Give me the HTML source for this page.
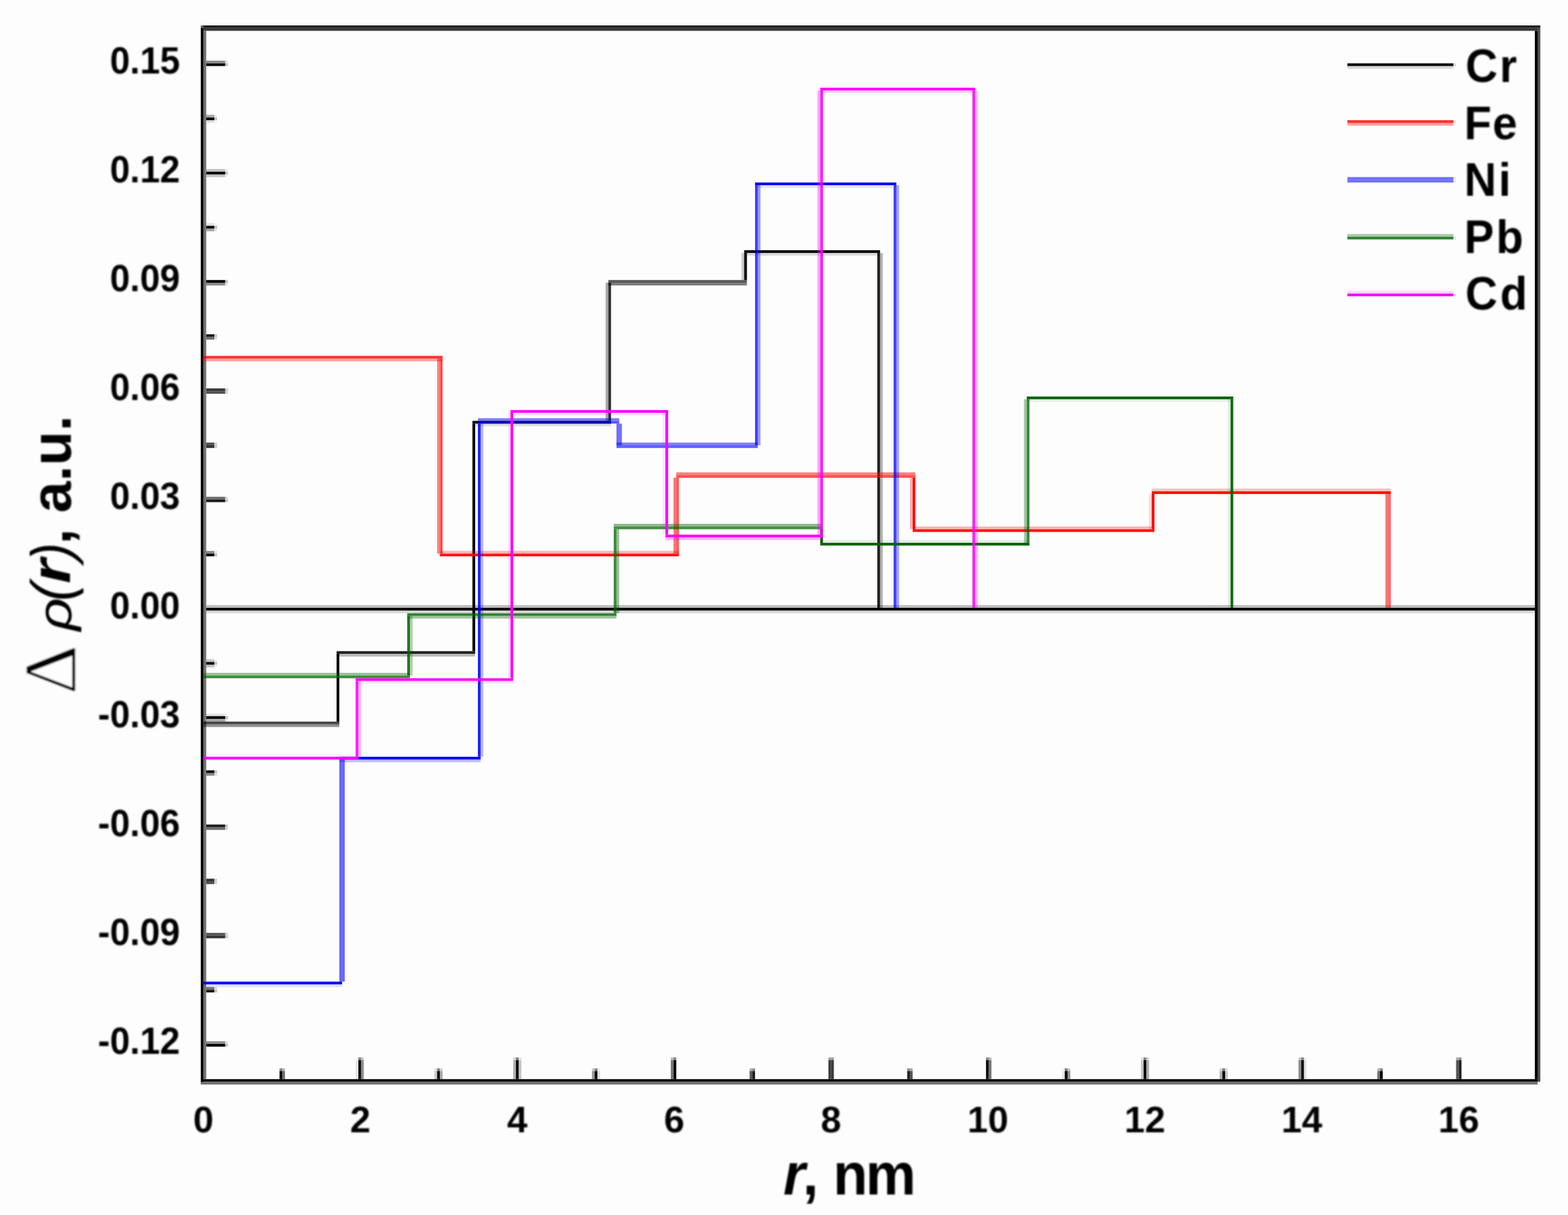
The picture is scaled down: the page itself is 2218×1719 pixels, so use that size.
<!DOCTYPE html>
<html lang="en"><head><meta charset="utf-8"><title>Δρ(r) chart</title>
<style>
html,body{margin:0;padding:0;background:#fdfdfd;}
body{width:2218px;height:1719px;overflow:hidden;}
svg{display:block;}
text{font-family:"Liberation Sans",Arial,Helvetica,sans-serif;font-weight:bold;fill:#000;}
.tk{font-size:52px;}
.lg{font-size:63px;}
.ti{font-size:80px;}
.it{font-style:italic;}
.sym{font-family:"Liberation Serif","DejaVu Serif",serif;font-weight:normal;}
</style></head><body>
<svg xmlns="http://www.w3.org/2000/svg" width="2218" height="1719" viewBox="0 0 2218 1719">
<rect x="0" y="0" width="2218" height="1719" fill="#fdfdfd"/>
<defs><filter id="soft" x="0" y="0" width="2218" height="1719" filterUnits="userSpaceOnUse"><feGaussianBlur stdDeviation="0.4"/></filter><filter id="softt" x="0" y="0" width="2218" height="1719" filterUnits="userSpaceOnUse"><feGaussianBlur stdDeviation="1.0"/></filter></defs>
<g filter="url(#soft)">
<g>
<rect x="287.82" y="35.94" width="1891.00" height="3.83" fill="#202020"/>
<rect x="287.82" y="39.78" width="1887.16" height="3.83" fill="#383838"/>
<rect x="283.98" y="1526.79" width="1891.00" height="3.83" fill="#000"/>
<rect x="283.98" y="1530.62" width="1891.00" height="3.83" fill="#707070"/>
<rect x="283.98" y="35.94" width="3.84" height="1494.67" fill="#000"/>
<rect x="287.82" y="43.61" width="3.84" height="1483.18" fill="#707070"/>
<rect x="2171.13" y="43.61" width="3.84" height="1483.18" fill="#000"/>
<rect x="2174.98" y="39.78" width="3.84" height="1490.84" fill="#505050"/>
<rect x="283.98" y="35.94" width="3.84" height="3.83" fill="#686868"/>
</g>
<g>
<rect x="291.66" y="1473.13" width="26.90" height="3.83" fill="#000" fill-opacity="0.44"/>
<rect x="318.57" y="1473.13" width="3.84" height="3.83" fill="#000" fill-opacity="0.11"/>
<rect x="291.66" y="1476.96" width="26.90" height="3.83" fill="#000"/>
<rect x="318.57" y="1476.96" width="3.84" height="3.83" fill="#000" fill-opacity="0.25"/>
<rect x="291.66" y="1396.48" width="11.53" height="3.83" fill="#000" fill-opacity="0.55"/>
<rect x="303.19" y="1396.48" width="3.84" height="3.83" fill="#000" fill-opacity="0.14"/>
<rect x="291.66" y="1400.31" width="11.53" height="3.83" fill="#000" fill-opacity="0.91"/>
<rect x="303.19" y="1400.31" width="3.84" height="3.83" fill="#000" fill-opacity="0.23"/>
<rect x="291.66" y="1319.83" width="26.90" height="3.83" fill="#000" fill-opacity="0.66"/>
<rect x="318.57" y="1319.83" width="3.84" height="3.83" fill="#000" fill-opacity="0.17"/>
<rect x="291.66" y="1323.66" width="26.90" height="3.83" fill="#000" fill-opacity="0.80"/>
<rect x="318.57" y="1323.66" width="3.84" height="3.83" fill="#000" fill-opacity="0.20"/>
<rect x="291.66" y="1243.18" width="11.53" height="3.83" fill="#000" fill-opacity="0.78"/>
<rect x="303.19" y="1243.18" width="3.84" height="3.83" fill="#000" fill-opacity="0.19"/>
<rect x="291.66" y="1247.01" width="11.53" height="3.83" fill="#000" fill-opacity="0.68"/>
<rect x="303.19" y="1247.01" width="3.84" height="3.83" fill="#000" fill-opacity="0.17"/>
<rect x="291.66" y="1166.53" width="26.90" height="3.83" fill="#000" fill-opacity="0.89"/>
<rect x="318.57" y="1166.53" width="3.84" height="3.83" fill="#000" fill-opacity="0.22"/>
<rect x="291.66" y="1170.36" width="26.90" height="3.83" fill="#000" fill-opacity="0.57"/>
<rect x="318.57" y="1170.36" width="3.84" height="3.83" fill="#000" fill-opacity="0.14"/>
<rect x="291.66" y="1089.88" width="11.53" height="3.83" fill="#000"/>
<rect x="303.19" y="1089.88" width="3.84" height="3.83" fill="#000" fill-opacity="0.25"/>
<rect x="291.66" y="1093.71" width="11.53" height="3.83" fill="#000" fill-opacity="0.46"/>
<rect x="303.19" y="1093.71" width="3.84" height="3.83" fill="#000" fill-opacity="0.12"/>
<rect x="291.66" y="1009.40" width="26.90" height="3.83" fill="#000" fill-opacity="0.11"/>
<rect x="318.57" y="1009.40" width="3.84" height="3.83" fill="#000" fill-opacity="0.03"/>
<rect x="291.66" y="1013.23" width="26.90" height="3.83" fill="#000"/>
<rect x="318.57" y="1013.23" width="3.84" height="3.83" fill="#000" fill-opacity="0.25"/>
<rect x="291.66" y="1017.06" width="26.90" height="3.83" fill="#000" fill-opacity="0.35"/>
<rect x="318.57" y="1017.06" width="3.84" height="3.83" fill="#000" fill-opacity="0.09"/>
<rect x="291.66" y="932.75" width="11.53" height="3.83" fill="#000" fill-opacity="0.22"/>
<rect x="303.19" y="932.75" width="3.84" height="3.83" fill="#000" fill-opacity="0.06"/>
<rect x="291.66" y="936.58" width="11.53" height="3.83" fill="#000"/>
<rect x="303.19" y="936.58" width="3.84" height="3.83" fill="#000" fill-opacity="0.25"/>
<rect x="291.66" y="940.41" width="11.53" height="3.83" fill="#000" fill-opacity="0.24"/>
<rect x="303.19" y="940.41" width="3.84" height="3.83" fill="#000" fill-opacity="0.06"/>
<rect x="291.66" y="779.45" width="11.53" height="3.83" fill="#000" fill-opacity="0.45"/>
<rect x="303.19" y="779.45" width="3.84" height="3.83" fill="#000" fill-opacity="0.11"/>
<rect x="291.66" y="783.28" width="11.53" height="3.83" fill="#000"/>
<rect x="303.19" y="783.28" width="3.84" height="3.83" fill="#000" fill-opacity="0.25"/>
<rect x="291.66" y="702.80" width="26.90" height="3.83" fill="#000" fill-opacity="0.56"/>
<rect x="318.57" y="702.80" width="3.84" height="3.83" fill="#000" fill-opacity="0.14"/>
<rect x="291.66" y="706.63" width="26.90" height="3.83" fill="#000" fill-opacity="0.90"/>
<rect x="318.57" y="706.63" width="3.84" height="3.83" fill="#000" fill-opacity="0.23"/>
<rect x="291.66" y="626.15" width="11.53" height="3.83" fill="#000" fill-opacity="0.67"/>
<rect x="303.19" y="626.15" width="3.84" height="3.83" fill="#000" fill-opacity="0.17"/>
<rect x="291.66" y="629.98" width="11.53" height="3.83" fill="#000" fill-opacity="0.79"/>
<rect x="303.19" y="629.98" width="3.84" height="3.83" fill="#000" fill-opacity="0.20"/>
<rect x="291.66" y="549.50" width="26.90" height="3.83" fill="#000" fill-opacity="0.78"/>
<rect x="318.57" y="549.50" width="3.84" height="3.83" fill="#000" fill-opacity="0.20"/>
<rect x="291.66" y="553.33" width="26.90" height="3.83" fill="#000" fill-opacity="0.68"/>
<rect x="318.57" y="553.33" width="3.84" height="3.83" fill="#000" fill-opacity="0.17"/>
<rect x="291.66" y="472.85" width="11.53" height="3.83" fill="#000" fill-opacity="0.89"/>
<rect x="303.19" y="472.85" width="3.84" height="3.83" fill="#000" fill-opacity="0.22"/>
<rect x="291.66" y="476.68" width="11.53" height="3.83" fill="#000" fill-opacity="0.57"/>
<rect x="303.19" y="476.68" width="3.84" height="3.83" fill="#000" fill-opacity="0.14"/>
<rect x="291.66" y="396.20" width="26.90" height="3.83" fill="#000"/>
<rect x="318.57" y="396.20" width="3.84" height="3.83" fill="#000" fill-opacity="0.25"/>
<rect x="291.66" y="400.03" width="26.90" height="3.83" fill="#000" fill-opacity="0.46"/>
<rect x="318.57" y="400.03" width="3.84" height="3.83" fill="#000" fill-opacity="0.11"/>
<rect x="291.66" y="315.71" width="11.53" height="3.83" fill="#000" fill-opacity="0.11"/>
<rect x="303.19" y="315.71" width="3.84" height="3.83" fill="#000" fill-opacity="0.03"/>
<rect x="291.66" y="319.55" width="11.53" height="3.83" fill="#000"/>
<rect x="303.19" y="319.55" width="3.84" height="3.83" fill="#000" fill-opacity="0.25"/>
<rect x="291.66" y="323.38" width="11.53" height="3.83" fill="#000" fill-opacity="0.35"/>
<rect x="303.19" y="323.38" width="3.84" height="3.83" fill="#000" fill-opacity="0.09"/>
<rect x="291.66" y="239.06" width="26.90" height="3.83" fill="#000" fill-opacity="0.23"/>
<rect x="318.57" y="239.06" width="3.84" height="3.83" fill="#000" fill-opacity="0.06"/>
<rect x="291.66" y="242.90" width="26.90" height="3.83" fill="#000"/>
<rect x="318.57" y="242.90" width="3.84" height="3.83" fill="#000" fill-opacity="0.25"/>
<rect x="291.66" y="246.73" width="26.90" height="3.83" fill="#000" fill-opacity="0.23"/>
<rect x="318.57" y="246.73" width="3.84" height="3.83" fill="#000" fill-opacity="0.06"/>
<rect x="291.66" y="162.41" width="11.53" height="3.83" fill="#000" fill-opacity="0.34"/>
<rect x="303.19" y="162.41" width="3.84" height="3.83" fill="#000" fill-opacity="0.08"/>
<rect x="291.66" y="166.25" width="11.53" height="3.83" fill="#000"/>
<rect x="303.19" y="166.25" width="3.84" height="3.83" fill="#000" fill-opacity="0.25"/>
<rect x="291.66" y="170.08" width="11.53" height="3.83" fill="#000" fill-opacity="0.12"/>
<rect x="303.19" y="170.08" width="3.84" height="3.83" fill="#000" fill-opacity="0.03"/>
<rect x="291.66" y="85.77" width="26.90" height="3.83" fill="#000" fill-opacity="0.45"/>
<rect x="318.57" y="85.77" width="3.84" height="3.83" fill="#000" fill-opacity="0.11"/>
<rect x="291.66" y="89.60" width="26.90" height="3.83" fill="#000"/>
<rect x="318.57" y="89.60" width="3.84" height="3.83" fill="#000" fill-opacity="0.25"/>
<rect x="395.44" y="1515.29" width="3.84" height="11.50" fill="#000" fill-opacity="0.98"/>
<rect x="395.44" y="1511.46" width="3.84" height="3.83" fill="#000" fill-opacity="0.49"/>
<rect x="399.28" y="1515.29" width="3.84" height="11.50" fill="#000" fill-opacity="0.56"/>
<rect x="399.28" y="1511.46" width="3.84" height="3.83" fill="#000" fill-opacity="0.28"/>
<rect x="503.06" y="1499.96" width="3.84" height="26.83" fill="#000" fill-opacity="0.09"/>
<rect x="503.06" y="1496.12" width="3.84" height="3.83" fill="#000" fill-opacity="0.04"/>
<rect x="506.90" y="1499.96" width="3.84" height="26.83" fill="#000"/>
<rect x="506.90" y="1496.12" width="3.84" height="3.83" fill="#000" fill-opacity="0.50"/>
<rect x="510.74" y="1499.96" width="3.84" height="26.83" fill="#000" fill-opacity="0.45"/>
<rect x="510.74" y="1496.12" width="3.84" height="3.83" fill="#000" fill-opacity="0.22"/>
<rect x="614.52" y="1515.29" width="3.84" height="11.50" fill="#000" fill-opacity="0.20"/>
<rect x="614.52" y="1511.46" width="3.84" height="3.83" fill="#000" fill-opacity="0.10"/>
<rect x="618.36" y="1515.29" width="3.84" height="11.50" fill="#000"/>
<rect x="618.36" y="1511.46" width="3.84" height="3.83" fill="#000" fill-opacity="0.50"/>
<rect x="622.20" y="1515.29" width="3.84" height="11.50" fill="#000" fill-opacity="0.33"/>
<rect x="622.20" y="1511.46" width="3.84" height="3.83" fill="#000" fill-opacity="0.17"/>
<rect x="725.98" y="1499.96" width="3.84" height="26.83" fill="#000" fill-opacity="0.31"/>
<rect x="725.98" y="1496.12" width="3.84" height="3.83" fill="#000" fill-opacity="0.16"/>
<rect x="729.82" y="1499.96" width="3.84" height="26.83" fill="#000"/>
<rect x="729.82" y="1496.12" width="3.84" height="3.83" fill="#000" fill-opacity="0.50"/>
<rect x="733.66" y="1499.96" width="3.84" height="26.83" fill="#000" fill-opacity="0.22"/>
<rect x="733.66" y="1496.12" width="3.84" height="3.83" fill="#000" fill-opacity="0.11"/>
<rect x="837.44" y="1515.29" width="3.84" height="11.50" fill="#000" fill-opacity="0.42"/>
<rect x="837.44" y="1511.46" width="3.84" height="3.83" fill="#000" fill-opacity="0.21"/>
<rect x="841.28" y="1515.29" width="3.84" height="11.50" fill="#000"/>
<rect x="841.28" y="1511.46" width="3.84" height="3.83" fill="#000" fill-opacity="0.50"/>
<rect x="845.13" y="1515.29" width="3.84" height="11.50" fill="#000" fill-opacity="0.11"/>
<rect x="845.13" y="1511.46" width="3.84" height="3.83" fill="#000" fill-opacity="0.06"/>
<rect x="948.90" y="1499.96" width="3.84" height="26.83" fill="#000" fill-opacity="0.54"/>
<rect x="948.90" y="1496.12" width="3.84" height="3.83" fill="#000" fill-opacity="0.27"/>
<rect x="952.74" y="1499.96" width="3.84" height="26.83" fill="#000" fill-opacity="1.00"/>
<rect x="952.74" y="1496.12" width="3.84" height="3.83" fill="#000" fill-opacity="0.50"/>
<rect x="1060.36" y="1515.29" width="3.84" height="11.50" fill="#000" fill-opacity="0.65"/>
<rect x="1060.36" y="1511.46" width="3.84" height="3.83" fill="#000" fill-opacity="0.32"/>
<rect x="1064.21" y="1515.29" width="3.84" height="11.50" fill="#000" fill-opacity="0.89"/>
<rect x="1064.21" y="1511.46" width="3.84" height="3.83" fill="#000" fill-opacity="0.44"/>
<rect x="1171.82" y="1499.96" width="3.84" height="26.83" fill="#000" fill-opacity="0.76"/>
<rect x="1171.82" y="1496.12" width="3.84" height="3.83" fill="#000" fill-opacity="0.38"/>
<rect x="1175.67" y="1499.96" width="3.84" height="26.83" fill="#000" fill-opacity="0.77"/>
<rect x="1175.67" y="1496.12" width="3.84" height="3.83" fill="#000" fill-opacity="0.39"/>
<rect x="1283.29" y="1515.29" width="3.84" height="11.50" fill="#000" fill-opacity="0.87"/>
<rect x="1283.29" y="1511.46" width="3.84" height="3.83" fill="#000" fill-opacity="0.44"/>
<rect x="1287.13" y="1515.29" width="3.84" height="11.50" fill="#000" fill-opacity="0.66"/>
<rect x="1287.13" y="1511.46" width="3.84" height="3.83" fill="#000" fill-opacity="0.33"/>
<rect x="1394.75" y="1499.96" width="3.84" height="26.83" fill="#000" fill-opacity="0.99"/>
<rect x="1394.75" y="1496.12" width="3.84" height="3.83" fill="#000" fill-opacity="0.49"/>
<rect x="1398.59" y="1499.96" width="3.84" height="26.83" fill="#000" fill-opacity="0.55"/>
<rect x="1398.59" y="1496.12" width="3.84" height="3.83" fill="#000" fill-opacity="0.27"/>
<rect x="1502.37" y="1515.29" width="3.84" height="11.50" fill="#000" fill-opacity="0.10"/>
<rect x="1502.37" y="1511.46" width="3.84" height="3.83" fill="#000" fill-opacity="0.05"/>
<rect x="1506.21" y="1515.29" width="3.84" height="11.50" fill="#000"/>
<rect x="1506.21" y="1511.46" width="3.84" height="3.83" fill="#000" fill-opacity="0.50"/>
<rect x="1510.05" y="1515.29" width="3.84" height="11.50" fill="#000" fill-opacity="0.44"/>
<rect x="1510.05" y="1511.46" width="3.84" height="3.83" fill="#000" fill-opacity="0.22"/>
<rect x="1613.83" y="1499.96" width="3.84" height="26.83" fill="#000" fill-opacity="0.21"/>
<rect x="1613.83" y="1496.12" width="3.84" height="3.83" fill="#000" fill-opacity="0.11"/>
<rect x="1617.67" y="1499.96" width="3.84" height="26.83" fill="#000"/>
<rect x="1617.67" y="1496.12" width="3.84" height="3.83" fill="#000" fill-opacity="0.50"/>
<rect x="1621.51" y="1499.96" width="3.84" height="26.83" fill="#000" fill-opacity="0.32"/>
<rect x="1621.51" y="1496.12" width="3.84" height="3.83" fill="#000" fill-opacity="0.16"/>
<rect x="1725.29" y="1515.29" width="3.84" height="11.50" fill="#000" fill-opacity="0.32"/>
<rect x="1725.29" y="1511.46" width="3.84" height="3.83" fill="#000" fill-opacity="0.16"/>
<rect x="1729.13" y="1515.29" width="3.84" height="11.50" fill="#000"/>
<rect x="1729.13" y="1511.46" width="3.84" height="3.83" fill="#000" fill-opacity="0.50"/>
<rect x="1732.98" y="1515.29" width="3.84" height="11.50" fill="#000" fill-opacity="0.21"/>
<rect x="1732.98" y="1511.46" width="3.84" height="3.83" fill="#000" fill-opacity="0.11"/>
<rect x="1836.75" y="1499.96" width="3.84" height="26.83" fill="#000" fill-opacity="0.44"/>
<rect x="1836.75" y="1496.12" width="3.84" height="3.83" fill="#000" fill-opacity="0.22"/>
<rect x="1840.59" y="1499.96" width="3.84" height="26.83" fill="#000"/>
<rect x="1840.59" y="1496.12" width="3.84" height="3.83" fill="#000" fill-opacity="0.50"/>
<rect x="1844.44" y="1499.96" width="3.84" height="26.83" fill="#000" fill-opacity="0.10"/>
<rect x="1844.44" y="1496.12" width="3.84" height="3.83" fill="#000" fill-opacity="0.05"/>
<rect x="1948.21" y="1515.29" width="3.84" height="11.50" fill="#000" fill-opacity="0.55"/>
<rect x="1948.21" y="1511.46" width="3.84" height="3.83" fill="#000" fill-opacity="0.27"/>
<rect x="1952.05" y="1515.29" width="3.84" height="11.50" fill="#000" fill-opacity="0.99"/>
<rect x="1952.05" y="1511.46" width="3.84" height="3.83" fill="#000" fill-opacity="0.49"/>
<rect x="2059.67" y="1499.96" width="3.84" height="26.83" fill="#000" fill-opacity="0.66"/>
<rect x="2059.67" y="1496.12" width="3.84" height="3.83" fill="#000" fill-opacity="0.33"/>
<rect x="2063.52" y="1499.96" width="3.84" height="26.83" fill="#000" fill-opacity="0.88"/>
<rect x="2063.52" y="1496.12" width="3.84" height="3.83" fill="#000" fill-opacity="0.44"/>
</g>
<g>
<rect x="291.66" y="856.10" width="1879.47" height="3.83" fill="#000" fill-opacity="0.25"/>
<rect x="291.66" y="859.93" width="1879.47" height="3.83" fill="#000"/>
<rect x="291.66" y="863.76" width="1879.47" height="3.83" fill="#000" fill-opacity="0.15"/>
</g>
<g>
<g>
<rect x="287.82" y="1020.90" width="192.18" height="3.83" fill="#000000" fill-opacity="0.72"/>
<rect x="287.82" y="1024.73" width="192.18" height="3.83" fill="#000000" fill-opacity="0.43"/>
<rect x="476.15" y="925.08" width="3.84" height="95.81" fill="#000000"/>
<rect x="476.15" y="921.25" width="196.02" height="3.83" fill="#000000" fill-opacity="0.87"/>
<rect x="476.15" y="925.08" width="196.02" height="3.83" fill="#000000" fill-opacity="0.27"/>
<rect x="668.33" y="599.32" width="3.84" height="321.93" fill="#000000"/>
<rect x="668.33" y="595.49" width="196.02" height="3.83" fill="#000000"/>
<rect x="668.33" y="599.32" width="196.02" height="3.83" fill="#000000" fill-opacity="0.12"/>
<rect x="856.66" y="400.03" width="3.84" height="195.46" fill="#000000" fill-opacity="0.34"/>
<rect x="860.50" y="400.03" width="3.84" height="195.46" fill="#000000" fill-opacity="0.82"/>
<rect x="860.50" y="396.20" width="196.02" height="3.83" fill="#000000" fill-opacity="0.65"/>
<rect x="860.50" y="400.03" width="196.02" height="3.83" fill="#000000" fill-opacity="0.50"/>
<rect x="1048.83" y="357.87" width="3.84" height="38.32" fill="#000000" fill-opacity="0.20"/>
<rect x="1052.68" y="357.87" width="3.84" height="38.32" fill="#000000"/>
<rect x="1052.68" y="354.04" width="192.18" height="3.83" fill="#000000"/>
<rect x="1052.68" y="357.87" width="192.18" height="3.83" fill="#000000" fill-opacity="0.14"/>
<rect x="1241.01" y="357.87" width="3.84" height="502.06" fill="#000000" fill-opacity="0.87"/>
<rect x="1244.85" y="357.87" width="3.84" height="502.06" fill="#000000" fill-opacity="0.30"/>
</g>
<g>
<rect x="287.82" y="503.51" width="338.23" height="3.83" fill="#ff0000" fill-opacity="0.81"/>
<rect x="287.82" y="507.34" width="338.23" height="3.83" fill="#ff0000" fill-opacity="0.37"/>
<rect x="618.36" y="507.34" width="3.84" height="275.94" fill="#ff0000" fill-opacity="0.50"/>
<rect x="622.20" y="507.34" width="3.84" height="275.94" fill="#ff0000" fill-opacity="0.69"/>
<rect x="622.20" y="779.45" width="338.23" height="3.83" fill="#ff0000" fill-opacity="0.30"/>
<rect x="622.20" y="783.28" width="338.23" height="3.83" fill="#ff0000" fill-opacity="0.93"/>
<rect x="952.74" y="675.97" width="3.84" height="107.31" fill="#ff0000" fill-opacity="0.56"/>
<rect x="956.59" y="675.97" width="3.84" height="107.31" fill="#ff0000" fill-opacity="0.65"/>
<rect x="956.59" y="668.31" width="338.23" height="3.83" fill="#ff0000" fill-opacity="0.50"/>
<rect x="956.59" y="672.14" width="338.23" height="3.83" fill="#ff0000" fill-opacity="0.68"/>
<rect x="1287.13" y="675.97" width="3.84" height="72.82" fill="#ff0000" fill-opacity="0.30"/>
<rect x="1290.97" y="675.97" width="3.84" height="72.82" fill="#ff0000" fill-opacity="0.95"/>
<rect x="1290.97" y="744.96" width="342.07" height="3.83" fill="#ff0000" fill-opacity="0.30"/>
<rect x="1290.97" y="748.79" width="342.07" height="3.83" fill="#ff0000" fill-opacity="0.93"/>
<rect x="1625.36" y="698.97" width="3.84" height="49.82" fill="#ff0000" fill-opacity="0.15"/>
<rect x="1629.20" y="698.97" width="3.84" height="49.82" fill="#ff0000"/>
<rect x="1629.20" y="691.30" width="338.23" height="3.83" fill="#ff0000" fill-opacity="0.25"/>
<rect x="1629.20" y="695.13" width="338.23" height="3.83" fill="#ff0000" fill-opacity="0.95"/>
<rect x="1959.74" y="698.97" width="3.84" height="160.97" fill="#ff0000" fill-opacity="0.55"/>
<rect x="1963.59" y="698.97" width="3.84" height="160.97" fill="#ff0000" fill-opacity="0.60"/>
</g>
<g>
<rect x="287.82" y="1388.82" width="196.02" height="3.83" fill="#0000ff"/>
<rect x="287.82" y="1392.65" width="196.02" height="3.83" fill="#0000ff" fill-opacity="0.12"/>
<rect x="479.99" y="1074.55" width="3.84" height="314.27" fill="#0000ff" fill-opacity="0.60"/>
<rect x="483.84" y="1074.55" width="3.84" height="314.27" fill="#0000ff" fill-opacity="0.60"/>
<rect x="479.99" y="1070.72" width="199.86" height="3.83" fill="#0000ff"/>
<rect x="479.99" y="1074.55" width="199.86" height="3.83" fill="#0000ff" fill-opacity="0.25"/>
<rect x="676.01" y="599.32" width="3.84" height="471.40" fill="#0000ff" fill-opacity="0.88"/>
<rect x="679.86" y="599.32" width="3.84" height="471.40" fill="#0000ff" fill-opacity="0.28"/>
<rect x="676.01" y="591.66" width="199.86" height="3.83" fill="#0000ff" fill-opacity="0.50"/>
<rect x="676.01" y="595.49" width="199.86" height="3.83" fill="#0000ff" fill-opacity="0.65"/>
<rect x="872.03" y="599.32" width="3.84" height="30.66" fill="#0000ff" fill-opacity="0.56"/>
<rect x="875.87" y="599.32" width="3.84" height="30.66" fill="#0000ff" fill-opacity="0.56"/>
<rect x="872.03" y="626.15" width="199.86" height="3.83" fill="#0000ff" fill-opacity="0.50"/>
<rect x="872.03" y="629.98" width="199.86" height="3.83" fill="#0000ff" fill-opacity="0.62"/>
<rect x="1068.05" y="262.06" width="3.84" height="367.92" fill="#0000ff" fill-opacity="0.75"/>
<rect x="1071.89" y="262.06" width="3.84" height="367.92" fill="#0000ff" fill-opacity="0.40"/>
<rect x="1068.05" y="258.23" width="199.86" height="3.83" fill="#0000ff"/>
<rect x="1068.05" y="262.06" width="199.86" height="3.83" fill="#0000ff" fill-opacity="0.10"/>
<rect x="1264.07" y="262.06" width="3.84" height="597.87" fill="#0000ff" fill-opacity="0.75"/>
<rect x="1267.91" y="262.06" width="3.84" height="597.87" fill="#0000ff" fill-opacity="0.37"/>
</g>
<g>
<rect x="287.82" y="951.91" width="292.11" height="3.83" fill="#006400" fill-opacity="0.40"/>
<rect x="287.82" y="955.74" width="292.11" height="3.83" fill="#006400" fill-opacity="0.75"/>
<rect x="576.08" y="871.43" width="3.84" height="84.32" fill="#006400" fill-opacity="0.87"/>
<rect x="579.92" y="871.43" width="3.84" height="84.32" fill="#006400" fill-opacity="0.30"/>
<rect x="576.08" y="867.60" width="295.95" height="3.83" fill="#006400" fill-opacity="0.80"/>
<rect x="576.08" y="871.43" width="295.95" height="3.83" fill="#006400" fill-opacity="0.37"/>
<rect x="868.19" y="748.79" width="3.84" height="118.81" fill="#006400" fill-opacity="0.75"/>
<rect x="872.03" y="748.79" width="3.84" height="118.81" fill="#006400" fill-opacity="0.40"/>
<rect x="868.19" y="741.12" width="295.95" height="3.83" fill="#006400" fill-opacity="0.45"/>
<rect x="868.19" y="744.96" width="295.95" height="3.83" fill="#006400" fill-opacity="0.72"/>
<rect x="1160.29" y="748.79" width="3.84" height="19.16" fill="#006400"/>
<rect x="1160.29" y="767.95" width="295.95" height="3.83" fill="#006400"/>
<rect x="1160.29" y="764.12" width="295.95" height="3.83" fill="#006400" fill-opacity="0.10"/>
<rect x="1448.56" y="564.83" width="3.84" height="203.12" fill="#006400" fill-opacity="0.37"/>
<rect x="1452.40" y="564.83" width="3.84" height="203.12" fill="#006400" fill-opacity="0.78"/>
<rect x="1452.40" y="561.00" width="292.11" height="3.83" fill="#006400"/>
<rect x="1452.40" y="564.83" width="292.11" height="3.83" fill="#006400" fill-opacity="0.10"/>
<rect x="1736.82" y="564.83" width="3.84" height="295.10" fill="#006400" fill-opacity="0.10"/>
<rect x="1740.66" y="564.83" width="3.84" height="295.10" fill="#006400" fill-opacity="0.95"/>
</g>
<g>
<rect x="287.82" y="1066.88" width="219.08" height="3.83" fill="#ff00ff" fill-opacity="0.05"/>
<rect x="287.82" y="1070.72" width="219.08" height="3.83" fill="#ff00ff"/>
<rect x="503.06" y="963.41" width="3.84" height="107.31" fill="#ff00ff" fill-opacity="0.90"/>
<rect x="506.90" y="963.41" width="3.84" height="107.31" fill="#ff00ff" fill-opacity="0.25"/>
<rect x="503.06" y="959.58" width="222.92" height="3.83" fill="#ff00ff"/>
<rect x="503.06" y="963.41" width="222.92" height="3.83" fill="#ff00ff" fill-opacity="0.10"/>
<rect x="718.29" y="583.99" width="3.84" height="375.59" fill="#ff00ff" fill-opacity="0.08"/>
<rect x="722.13" y="583.99" width="3.84" height="375.59" fill="#ff00ff"/>
<rect x="722.13" y="580.16" width="222.92" height="3.83" fill="#ff00ff"/>
<rect x="722.13" y="583.99" width="222.92" height="3.83" fill="#ff00ff" fill-opacity="0.10"/>
<rect x="937.37" y="583.99" width="3.84" height="172.46" fill="#ff00ff" fill-opacity="0.10"/>
<rect x="941.21" y="583.99" width="3.84" height="172.46" fill="#ff00ff"/>
<rect x="941.21" y="756.45" width="222.92" height="3.83" fill="#ff00ff"/>
<rect x="941.21" y="760.29" width="222.92" height="3.83" fill="#ff00ff" fill-opacity="0.30"/>
<rect x="1156.45" y="127.92" width="3.84" height="628.53" fill="#ff00ff" fill-opacity="0.37"/>
<rect x="1160.29" y="127.92" width="3.84" height="628.53" fill="#ff00ff" fill-opacity="0.90"/>
<rect x="1160.29" y="124.09" width="219.08" height="3.83" fill="#ff00ff"/>
<rect x="1160.29" y="127.92" width="219.08" height="3.83" fill="#ff00ff" fill-opacity="0.18"/>
<rect x="1375.53" y="127.92" width="3.84" height="732.01" fill="#ff00ff" fill-opacity="0.90"/>
<rect x="1379.37" y="127.92" width="3.84" height="732.01" fill="#ff00ff" fill-opacity="0.30"/>
</g>
</g>
<g>
<rect x="1905.93" y="89.60" width="149.90" height="3.83" fill="#000000"/>
<rect x="2055.83" y="89.60" width="3.84" height="3.83" fill="#000000" fill-opacity="0.15"/>
<rect x="1905.93" y="93.43" width="149.90" height="3.83" fill="#000000" fill-opacity="0.15"/>
<rect x="2055.83" y="93.43" width="3.84" height="3.83" fill="#000000" fill-opacity="0.02"/>
<rect x="1905.93" y="170.08" width="149.90" height="3.83" fill="#ff0000" fill-opacity="0.81"/>
<rect x="2055.83" y="170.08" width="3.84" height="3.83" fill="#ff0000" fill-opacity="0.12"/>
<rect x="1905.93" y="173.91" width="149.90" height="3.83" fill="#ff0000" fill-opacity="0.37"/>
<rect x="2055.83" y="173.91" width="3.84" height="3.83" fill="#ff0000" fill-opacity="0.06"/>
<rect x="1905.93" y="250.56" width="149.90" height="3.83" fill="#0000ff" fill-opacity="0.56"/>
<rect x="2055.83" y="250.56" width="3.84" height="3.83" fill="#0000ff" fill-opacity="0.08"/>
<rect x="1905.93" y="254.39" width="149.90" height="3.83" fill="#0000ff" fill-opacity="0.56"/>
<rect x="2055.83" y="254.39" width="3.84" height="3.83" fill="#0000ff" fill-opacity="0.08"/>
<rect x="1905.93" y="331.05" width="149.90" height="3.83" fill="#006400" fill-opacity="0.33"/>
<rect x="2055.83" y="331.05" width="3.84" height="3.83" fill="#006400" fill-opacity="0.05"/>
<rect x="1905.93" y="334.88" width="149.90" height="3.83" fill="#006400" fill-opacity="0.80"/>
<rect x="2055.83" y="334.88" width="3.84" height="3.83" fill="#006400" fill-opacity="0.12"/>
<rect x="1905.93" y="411.53" width="149.90" height="3.83" fill="#ff00ff" fill-opacity="0.15"/>
<rect x="2055.83" y="411.53" width="3.84" height="3.83" fill="#ff00ff" fill-opacity="0.02"/>
<rect x="1905.93" y="415.36" width="149.90" height="3.83" fill="#ff00ff"/>
<rect x="2055.83" y="415.36" width="3.84" height="3.83" fill="#ff00ff" fill-opacity="0.15"/>
</g>
</g>
<g filter="url(#softt)">
<text class="tk" transform="translate(254.60,1491.33) scale(0.980,1.040)" text-anchor="end">-0.12</text>
<text class="tk" transform="translate(254.60,1337.16) scale(0.980,1.040)" text-anchor="end">-0.09</text>
<text class="tk" transform="translate(254.60,1182.99) scale(0.980,1.040)" text-anchor="end">-0.06</text>
<text class="tk" transform="translate(254.60,1028.82) scale(0.980,1.040)" text-anchor="end">-0.03</text>
<text class="tk" transform="translate(254.60,874.65) scale(0.980,1.040)" text-anchor="end">0.00</text>
<text class="tk" transform="translate(254.60,720.48) scale(0.980,1.040)" text-anchor="end">0.03</text>
<text class="tk" transform="translate(254.60,566.31) scale(0.980,1.040)" text-anchor="end">0.06</text>
<text class="tk" transform="translate(254.60,412.14) scale(0.980,1.040)" text-anchor="end">0.09</text>
<text class="tk" transform="translate(254.60,257.97) scale(0.980,1.040)" text-anchor="end">0.12</text>
<text class="tk" transform="translate(254.60,103.80) scale(0.980,1.040)" text-anchor="end">0.15</text>
<text class="tk" transform="translate(287.70,1602.00) scale(1.000,1.000)" text-anchor="middle">0</text>
<text class="tk" transform="translate(509.66,1602.00) scale(1.000,1.000)" text-anchor="middle">2</text>
<text class="tk" transform="translate(731.62,1602.00) scale(1.000,1.000)" text-anchor="middle">4</text>
<text class="tk" transform="translate(953.58,1602.00) scale(1.000,1.000)" text-anchor="middle">6</text>
<text class="tk" transform="translate(1175.54,1602.00) scale(1.000,1.000)" text-anchor="middle">8</text>
<text class="tk" transform="translate(1397.50,1602.00) scale(1.000,1.000)" text-anchor="middle">10</text>
<text class="tk" transform="translate(1619.46,1602.00) scale(1.000,1.000)" text-anchor="middle">12</text>
<text class="tk" transform="translate(1841.42,1602.00) scale(1.000,1.000)" text-anchor="middle">14</text>
<text class="tk" transform="translate(2063.38,1602.00) scale(1.000,1.000)" text-anchor="middle">16</text>
<text class="lg" transform="translate(2073.00,116.00) scale(1.000,1.050)" text-anchor="start" letter-spacing="2.7">Cr</text>
<text class="lg" transform="translate(2071.30,196.50) scale(1.000,1.050)" text-anchor="start" letter-spacing="1.4">Fe</text>
<text class="lg" transform="translate(2071.30,277.00) scale(1.000,1.050)" text-anchor="start" letter-spacing="2.9">Ni</text>
<text class="lg" transform="translate(2071.30,357.50) scale(1.000,1.050)" text-anchor="start" letter-spacing="2.9">Pb</text>
<text class="lg" transform="translate(2072.80,438.00) scale(1.000,1.050)" text-anchor="start" letter-spacing="3.6">Cd</text>
<text class="ti" transform="translate(1108,1690.3) scale(1,1.045)"><tspan class="it">r</tspan><tspan dx="-3.7">, </tspan><tspan dx="-1.3">n</tspan><tspan dx="-3">m</tspan></text>
<text class="sym" style="font-size:100px;stroke:#fdfdfd;stroke-width:1.2px" transform="translate(107.0,982.6) rotate(-90) scale(1.09,1.05)">Δ</text>
<text class="it" style="font-size:80px;font-weight:normal" transform="translate(101,892.6) rotate(-90) scale(1.018,0.847)">ρ</text>
<text class="ti it" style="font-weight:normal" transform="translate(101.25,850.7) rotate(-90) scale(0.987,1.02)">(</text>
<text class="ti it" transform="translate(99.1,825.5) rotate(-90) scale(1.118,0.982)">r</text>
<text class="ti it" style="font-weight:normal" transform="translate(101.25,793.4) rotate(-90) scale(0.973,1.02)">)</text>
<text class="ti" transform="translate(100,770) rotate(-90)">, a.u.</text>
</g>
</svg>
</body></html>
